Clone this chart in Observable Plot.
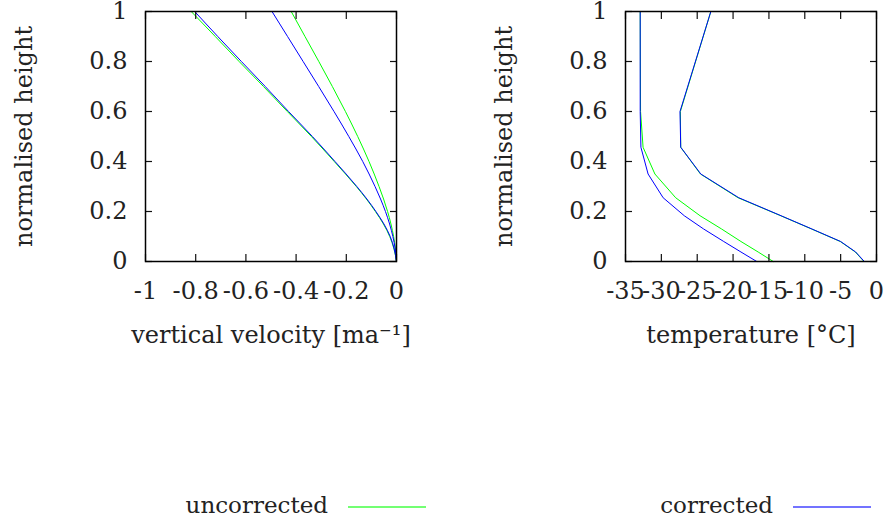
<!DOCTYPE html>
<html><head><meta charset="utf-8">
<script src="https://cdn.jsdelivr.net/npm/d3@7"></script>
<script src="https://cdn.jsdelivr.net/npm/@observablehq/plot@0.6"></script>
<style>
html,body{margin:0;padding:0;background:#fff;}
#wrap{position:relative;width:890px;height:526px;overflow:hidden;font-family:"DejaVu Serif",serif;color:#222;}
.panel{position:absolute;top:0;width:445px;}
.ltext{position:absolute;width:220px;text-align:right;font-size:23px;line-height:30px;white-space:nowrap;}
.lline{position:absolute;height:2px;}
</style></head><body>
<div id="wrap">
  <div id="left" class="panel" style="left:0"></div>
  <div id="right" class="panel" style="left:445px"></div>
</div>
<script>
// ---------- data ----------
const seriesNames = ["uncorrected", "corrected"];

// vertical velocity profiles (normalised height vs velocity, m/a)
const velHeight = [0, 0.05, 0.1, 0.15, 0.2, 0.25, 0.3, 0.4, 0.5, 0.6, 0.7, 0.8, 0.9, 1];
const velUncorrectedA = [0, -0.010, -0.027, -0.052, -0.084, -0.120, -0.160, -0.248, -0.339, -0.435, -0.530, -0.627, -0.722, -0.818];
const velCorrectedA   = [0, -0.009, -0.025, -0.050, -0.082, -0.118, -0.158, -0.245, -0.335, -0.430, -0.523, -0.618, -0.712, -0.804];
const velUncorrectedB = [0, -0.004, -0.0115, -0.022, -0.0355, -0.0515, -0.0695, -0.1095, -0.1545, -0.2035, -0.2555, -0.3095, -0.3645, -0.4195];
const velCorrectedB   = [0, -0.005, -0.0145, -0.0275, -0.044, -0.0635, -0.0855, -0.1345, -0.19, -0.249, -0.31, -0.372, -0.434, -0.496];

// temperature profiles (normalised height vs temperature, °C)
const tempHeight = [0, 0.038, 0.08, 0.13, 0.183, 0.255, 0.35, 0.457, 0.6, 1];
const tempUncorrectedA = [-1.75, -2.95, -5.05, -9.05, -13.35, -19.3, -24.55, -27.3, -27.35, -23.1];
const tempCorrectedA   = [-1.7, -2.9, -5.0, -9.0, -13.3, -19.2, -24.5, -27.3, -27.4, -23.1];
const tempUncorrectedB = [-14.4, -16.5, -18.9, -21.6, -24.6, -28.0, -30.9, -32.55, -32.9, -32.95];
const tempCorrectedB   = [-16.7, -18.9, -21.3, -24.1, -26.8, -29.75, -31.85, -32.85, -32.95, -32.95];

// axis ticks
const heightTicks = [0, 0.2, 0.4, 0.6, 0.8, 1];
const velTicks = [-1, -0.8, -0.6, -0.4, -0.2, 0];
const tempTicks = [-35, -30, -25, -20, -15, -10, -5, 0];

// ---------- styles ----------
const colors = {uncorrected: "#00ff00", corrected: "#0000ff"};
const fontFamily = '"DejaVu Serif", serif';

function fmt(d) { return String(Math.round(d * 10) / 10); }
function rows(hs, vs) { return hs.map((h, i) => ({h, v: vs[i]})); }

function panel({xDomain, xTicks, xLabel, series, curve, ml, mr}) {
  const lines = series.map(([hs, vs, name]) =>
    Plot.line(rows(hs, vs), {x: "v", y: "h", stroke: colors[name], strokeWidth: 1, curve}));
  return Plot.plot({
    width: 445, height: 360,
    marginLeft: ml, marginRight: mr, marginTop: 11, marginBottom: 99,
    style: {fontFamily, fontSize: "24px", color: "#222", background: "transparent", overflow: "visible"},
    x: {domain: xDomain},
    y: {domain: [0, 1]},
    marks: [
      ...lines,
      Plot.axisX(xTicks, {anchor: "bottom", tickSize: -7, fill: "none", label: null, stroke: "#111", strokeWidth: 1.2}),
      Plot.axisX(xTicks, {anchor: "top", tickSize: -7, fill: "none", label: null, stroke: "#111", strokeWidth: 1.2}),
      Plot.axisY(heightTicks, {anchor: "left", tickSize: -7, fill: "none", label: null, stroke: "#111", strokeWidth: 1.2}),
      Plot.axisY(heightTicks, {anchor: "right", tickSize: -7, fill: "none", label: null, stroke: "#111", strokeWidth: 1.2}),
      Plot.axisX(xTicks, {anchor: "bottom", tickSize: 0, tickPadding: 20, tickFormat: fmt,
        label: xLabel, labelAnchor: "center", labelOffset: 81, labelArrow: "none", fill: "#222"}),
      Plot.axisY(heightTicks, {anchor: "left", tickSize: 0, tickPadding: 18, tickFormat: fmt,
        label: "normalised height", labelAnchor: "center", labelOffset: 131, labelArrow: "none", fill: "#222"}),
      Plot.frame({stroke: "#000", strokeWidth: 1.5})
    ]
  });
}

document.getElementById("left").append(panel({
  xDomain: [-1, 0], xTicks: velTicks, xLabel: "vertical velocity [ma⁻¹]", curve: "monotone-y",
  ml: 145, mr: 49,
  series: [
    [velHeight, velUncorrectedA, "uncorrected"],
    [velHeight, velUncorrectedB, "uncorrected"],
    [velHeight, velCorrectedA, "corrected"],
    [velHeight, velCorrectedB, "corrected"]
  ]
}));

document.getElementById("right").append(panel({
  xDomain: [-35, 0], xTicks: tempTicks, xLabel: "temperature [°C]", curve: "linear",
  ml: 180, mr: 14,
  series: [
    [tempHeight, tempUncorrectedA, "uncorrected"],
    [tempHeight, tempUncorrectedB, "uncorrected"],
    [tempHeight, tempCorrectedA, "corrected"],
    [tempHeight, tempCorrectedB, "corrected"]
  ]
}));

// legend (below the plots)
const wrap = document.getElementById("wrap");
const legendPos = {uncorrected: 328, corrected: 773};
seriesNames.forEach(name => {
  const t = document.createElement("div");
  t.className = "ltext";
  t.textContent = name;
  t.style.left = (legendPos[name] - 220) + "px";
  t.style.top = "490px";
  wrap.append(t);
  const l = document.createElement("div");
  l.className = "lline";
  l.style.left = (legendPos[name] + 20) + "px";
  l.style.width = "78px";
  l.style.top = "506px";
  l.style.background = colors[name];
  l.style.opacity = "0.55";
  wrap.append(l);
});
</script>
</body></html>
